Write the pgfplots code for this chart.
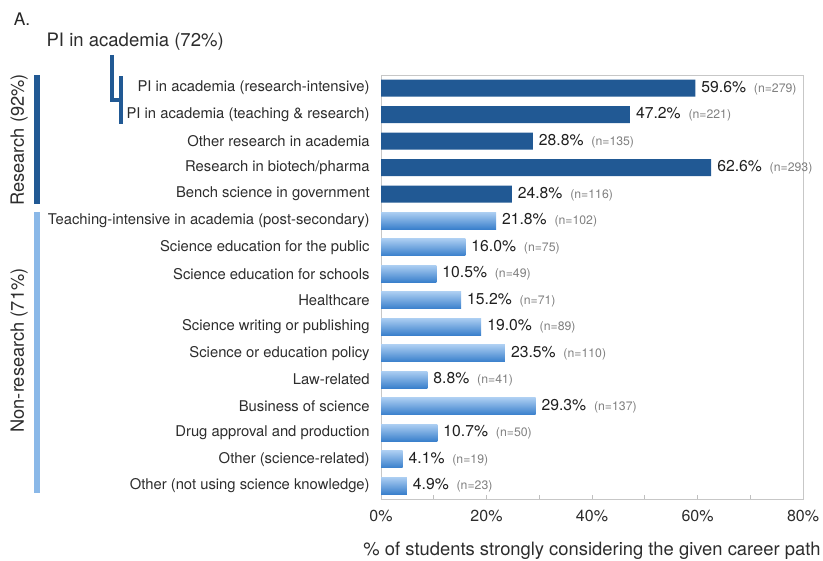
\documentclass[border=0pt]{standalone}
\usepackage{pgfplots}
\pgfplotsset{compat=1.18}
\usepackage{pgfplotstable}
\usepackage{fontspec}
\setmainfont{TeX Gyre Heros}
\definecolor{darkblue}{RGB}{33,89,148}
\definecolor{lbtop}{RGB}{172,206,242}
\definecolor{lbmid}{RGB}{104,164,228}
\definecolor{lbbot}{RGB}{58,128,204}
\definecolor{lbbrack}{RGB}{138,184,232}
\definecolor{labgray}{RGB}{45,45,45}

\pgfplotstableread{
y x n
0 59.6 279
1 47.2 221
2 28.8 135
3 62.6 293
4 24.8 116
}\research
\pgfplotstableread{
y x n
5 21.8 102
6 16.0 75
7 10.5 49
8 15.2 71
9 19.0 89
10 23.5 110
11 8.8 41
12 29.3 137
13 10.7 50
14 4.1 19
15 4.9 23
}\nonresearch

\begin{document}
\begin{tikzpicture}
\begin{axis}[
  /pgf/number format/assume math mode=true,
  scale only axis,
  width=316.5pt, height=318pt,
  xmin=0, xmax=80,
  ymin=-0.5, ymax=15.5,
  y dir=reverse,
  clip=false,
  axis line style={draw=black!22},
  xtick={0,20,40,60,80},
  minor xtick={10,30,50,70},
  xtick pos=bottom,
  tick align=inside,
  major tick length=3pt, minor tick length=3pt,
  every tick/.style={draw=black!25},
  xticklabel={\pgfmathprintnumber{\tick}\%},
  xticklabel style={font=\fontsize{12}{14}\selectfont, text=labgray, yshift=-5pt},
  ytick={0,...,15},
  ytick style={draw=none},
  yticklabels={
    {PI in academia (research-intensive)},
    {PI in academia (teaching \& research)},
    {Other research in academia},
    {Research in biotech/pharma},
    {Bench science in government},
    {Teaching-intensive in academia (post-secondary)},
    {Science education for the public},
    {Science education for schools},
    {Healthcare},
    {Science writing or publishing},
    {Science or education policy},
    {Law-related},
    {Business of science},
    {Drug approval and production},
    {Other (science-related)},
    {Other (not using science knowledge)}},
  yticklabel style={font=\fontsize{11.1}{13}\selectfont, text=labgray, xshift=-5pt},
  xlabel={\% of students strongly considering the given career path},
  xlabel style={font=\fontsize{13.8}{16}\selectfont, text=labgray, yshift=-8pt},
  bar width=0.64,
  point meta=x,
  nodes near coords={\textcolor{black!88}{\pgfmathprintnumber[fixed,fixed zerofill,precision=1]{\pgfplotspointmeta}\%}\hspace{0.5em}{\fontsize{9.2}{10}\selectfont\textcolor{black!50}{(n=\pgfmathprintnumber[fixed,precision=0]{\nval})}}},
  nodes near coords style={anchor=west, font=\fontsize{11.8}{14}\selectfont, xshift=1pt},
  visualization depends on={\thisrow{n}\as\nval},
]
\addplot[xbar, draw=none, fill=darkblue] table[x=x, y=y] {\research};
\pgfplotsinvokeforeach{5,...,15}{
  \addplot[xbar, draw=none, top color=lbtop, middle color=lbmid, bottom color=lbbot,
    restrict y to domain=#1:#1] table[x=x, y=y] {\nonresearch};
}

% group brackets
\draw[darkblue, line width=4.5pt] (axis cs:-65.2,-0.49) -- (axis cs:-65.2,4.38);
\draw[lbbrack, line width=4.5pt] (axis cs:-65.2,4.68) -- (axis cs:-65.2,15.26);
\node[rotate=90, font=\fontsize{13.7}{16}\selectfont, text=labgray] at (axis cs:-68.6,1.96) {Research (92\%)};
\node[rotate=90, font=\fontsize{13.7}{16}\selectfont, text=labgray] at (axis cs:-68.6,9.9) {Non-research (71\%)};
% PI bracket
\draw[darkblue, line width=2.6pt] (axis cs:-51.0,-1.25) -- (axis cs:-51.0,0.45) -- (axis cs:-49.3,0.45);
\draw[darkblue, line width=3pt] (axis cs:-49.3,-0.45) -- (axis cs:-49.3,1.36);
\node[font=\fontsize{13.9}{16}\selectfont, text=labgray] at (axis cs:-46.6,-1.74) {PI in academia (72\%)};
\node[anchor=west, font=\fontsize{13}{15}\selectfont, text=black!85] at (axis cs:-70.5,-2.6) {A.};

\coordinate (bbA) at (axis cs:-72.23,-3.325);
\coordinate (bbB) at (axis cs:83.79,17.83);
\end{axis}
\pgfresetboundingbox
\useasboundingbox (bbA) rectangle (bbB);
\end{tikzpicture}
\end{document}
